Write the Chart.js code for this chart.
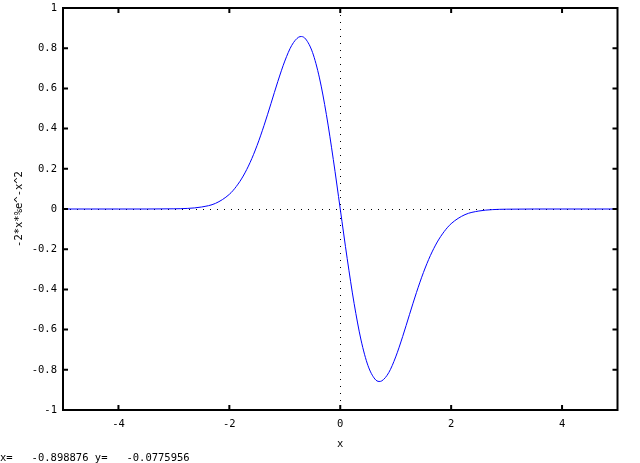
<!DOCTYPE html>
<html>
<head>
<meta charset="utf-8">
<script src="https://cdn.jsdelivr.net/npm/chart.js@4"></script>
<style>
  html, body { margin: 0; padding: 0; background: #fff; }
  #wrap { width: 640px; height: 463px; }
</style>
</head>
<body>
<div id="wrap"><canvas id="plot" width="640" height="463"></canvas></div>
<script>
// Nilai kurva yang dibaca dari gambar
const xs = [-5, -4.5, -4, -3.5, -3, -2.75, -2.5, -2.25, -2, -1.875, -1.75, -1.625, -1.5, -1.375,
  -1.25, -1.125, -1, -0.875, -0.75, -0.7, -0.625, -0.5, -0.375, -0.25, -0.125, 0,
  0.125, 0.25, 0.375, 0.5, 0.625, 0.7, 0.75, 0.875, 1, 1.125, 1.25, 1.375, 1.5, 1.625,
  1.75, 1.875, 2, 2.25, 2.5, 2.75, 3, 3.5, 4, 4.5, 5];
const ys = [0, 0, 0, 0, 0.001, 0.003, 0.010, 0.028, 0.073, 0.112, 0.164, 0.232, 0.316, 0.415,
  0.524, 0.635, 0.736, 0.814, 0.855, 0.858, 0.846, 0.779, 0.652, 0.470, 0.246, 0,
  -0.246, -0.470, -0.652, -0.779, -0.846, -0.858, -0.855, -0.814, -0.736, -0.635, -0.524, -0.415, -0.316, -0.232,
  -0.164, -0.112, -0.073, -0.028, -0.010, -0.003, -0.001, 0, 0, 0, 0];

const xTicks = [-4, -2, 0, 2, 4];
const xTickLabels = ['-4', '-2', '0', '2', '4'];
const yTicks = [-1, -0.8, -0.6, -0.4, -0.2, 0, 0.2, 0.4, 0.6, 0.8, 1];
const yTickLabels = ['-1', '-0.8', '-0.6', '-0.4', '-0.2', '0', '0.2', '0.4', '0.6', '0.8', '1'];

const xTitle = 'x';
const yTitle = '-2*x*%e^-x^2';
const footer = 'x=   -0.898876 y=   -0.0775956';

const font = { family: 'DejaVu Sans Mono', size: 10.5 };

// Bingkai ala gnuplot: garis nol titik-titik, border dan tick ke dalam
const gnuFrame = {
  id: 'gnuFrame',
  beforeDatasetsDraw(chart) {
    const { ctx, chartArea: a, scales: { x, y } } = chart;
    ctx.save();
    ctx.strokeStyle = '#000';
    ctx.lineWidth = 1;
    ctx.setLineDash([1, 6]);
    const x0 = Math.round(x.getPixelForValue(0)) + 0.5;
    const y0 = Math.round(y.getPixelForValue(0)) + 0.5;
    ctx.beginPath();
    ctx.moveTo(x0, a.top); ctx.lineTo(x0, a.bottom);
    ctx.moveTo(a.left, y0); ctx.lineTo(a.right, y0);
    ctx.stroke();
    ctx.restore();
  },
  afterDatasetsDraw(chart) {
    const { ctx, chartArea: a, scales: { x, y } } = chart;
    ctx.save();
    ctx.strokeStyle = '#000';
    ctx.lineWidth = 2;
    ctx.strokeRect(a.left, a.top, a.right - a.left, a.bottom - a.top);
    ctx.beginPath();
    xTicks.forEach(v => {
      const px = x.getPixelForValue(v);
      ctx.moveTo(px, a.bottom); ctx.lineTo(px, a.bottom - 5);
      ctx.moveTo(px, a.top); ctx.lineTo(px, a.top + 5);
    });
    yTicks.forEach(v => {
      const py = y.getPixelForValue(v);
      ctx.moveTo(a.left, py); ctx.lineTo(a.left + 5, py);
      ctx.moveTo(a.right, py); ctx.lineTo(a.right - 5, py);
    });
    ctx.stroke();
    ctx.restore();
  },
  afterDraw(chart) {
    const ctx = chart.ctx;
    ctx.save();
    ctx.fillStyle = '#000';
    ctx.font = font.size + 'px "' + font.family + '"';
    ctx.textAlign = 'left';
    ctx.textBaseline = 'alphabetic';
    ctx.fillText(footer, 0, 461);
    ctx.restore();
  }
};

new Chart(document.getElementById('plot'), {
  type: 'scatter',
  data: {
    datasets: [{
      data: xs.map((v, i) => ({ x: v, y: ys[i] })),
      showLine: true,
      borderColor: '#0000ff',
      borderWidth: 1,
      pointRadius: 0,
      cubicInterpolationMode: 'monotone'
    }]
  },
  options: {
    responsive: false,
    animation: false,
    layout: { padding: { top: 8, right: 22.5, bottom: 0, left: 0 } },
    plugins: {
      legend: { display: false },
      tooltip: { enabled: false }
    },
    scales: {
      x: {
        type: 'linear',
        min: -5,
        max: 5,
        afterBuildTicks: s => { s.ticks = xTicks.map(v => ({ value: v })); },
        afterFit: s => { s.height = 53; s.paddingLeft = 0; s.paddingRight = 0; },
        grid: { display: false, drawTicks: false },
        border: { display: false },
        ticks: {
          color: '#000',
          font: font,
          padding: 8,
          maxRotation: 0,
          callback: (v, i) => xTickLabels[i]
        },
        title: { display: true, text: xTitle, color: '#000', font: font, padding: { top: 0, bottom: 12.5 } }
      },
      y: {
        type: 'linear',
        min: -1,
        max: 1,
        afterBuildTicks: s => { s.ticks = yTicks.map(v => ({ value: v })); },
        afterFit: s => { s.width = 63; s.paddingTop = 0; s.paddingBottom = 0; },
        grid: { display: false, drawTicks: false },
        border: { display: false },
        ticks: {
          color: '#000',
          font: font,
          padding: 6,
          callback: (v, i) => yTickLabels[i]
        },
        title: { display: true, text: yTitle, color: '#000', font: font, padding: { top: 13, bottom: 0 } }
      }
    }
  },
  plugins: [gnuFrame]
});
</script>
</body>
</html>
